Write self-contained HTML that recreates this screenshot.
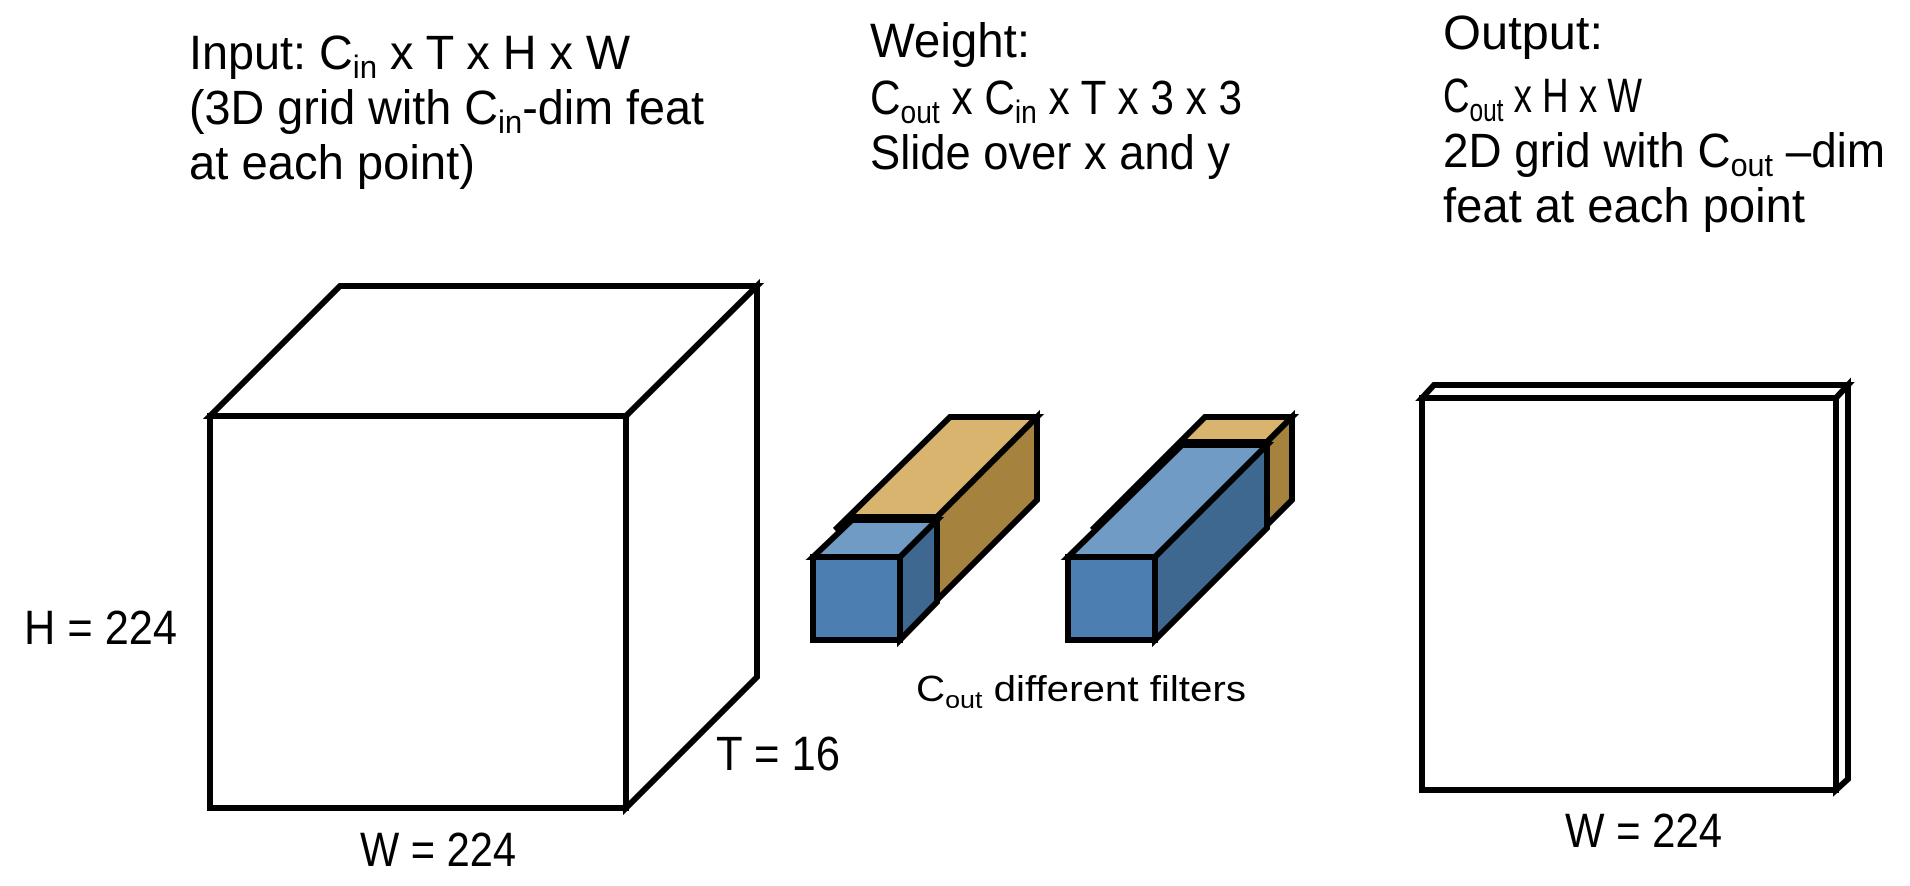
<!DOCTYPE html>
<html><head><meta charset="utf-8"><style>
html,body{margin:0;padding:0;background:#fff;}
svg{display:block;}
text{font-family:"Liberation Sans",sans-serif;fill:#000;}
</style></head><body>
<svg width="1910" height="886" viewBox="0 0 1910 886" xmlns="http://www.w3.org/2000/svg">
<g font-size="48">
<text x="189" y="69" textLength="441" lengthAdjust="spacingAndGlyphs">Input:  C<tspan font-size="32" dy="9">in</tspan><tspan dy="-9"> x T x H x W</tspan></text>
<text x="189" y="124" textLength="515" lengthAdjust="spacingAndGlyphs">(3D grid with C<tspan font-size="32" dy="9">in</tspan><tspan dy="-9">-dim feat</tspan></text>
<text x="189" y="179" textLength="286" lengthAdjust="spacingAndGlyphs">at each point)</text>
<text x="870" y="57" textLength="160" lengthAdjust="spacingAndGlyphs">Weight:</text>
<text x="870" y="114" textLength="372" lengthAdjust="spacingAndGlyphs">C<tspan font-size="32" dy="9">out</tspan><tspan dy="-9"> x C</tspan><tspan font-size="32" dy="9">in</tspan><tspan dy="-9"> x T x 3 x 3</tspan></text>
<text x="870" y="169" textLength="360" lengthAdjust="spacingAndGlyphs">Slide over x and y</text>
<text x="1443" y="49" textLength="160" lengthAdjust="spacingAndGlyphs">Output:</text>
<text x="1443" y="112" textLength="199" lengthAdjust="spacingAndGlyphs">C<tspan font-size="32" dy="9">out</tspan><tspan dy="-9"> x H x W</tspan></text>
<text x="1443" y="167" textLength="442" lengthAdjust="spacingAndGlyphs">2D grid with C<tspan font-size="32" dy="9">out</tspan><tspan dy="-9"> –dim</tspan></text>
<text x="1443" y="222" textLength="362" lengthAdjust="spacingAndGlyphs">feat at each point</text>
<text x="24" y="644" textLength="153" lengthAdjust="spacingAndGlyphs">H = 224</text>
<text x="716" y="770" textLength="124" lengthAdjust="spacingAndGlyphs">T = 16</text>
<text x="360" y="866" textLength="156" lengthAdjust="spacingAndGlyphs">W = 224</text>
<text x="1565" y="847" textLength="157" lengthAdjust="spacingAndGlyphs">W = 224</text>
</g>
<text x="916" y="701" font-size="36" textLength="330" lengthAdjust="spacingAndGlyphs">C<tspan font-size="24" dy="7">out</tspan><tspan dy="-7"> different filters</tspan></text>

<g stroke="#000" stroke-width="6" stroke-linejoin="miter" fill="#fff">
<polygon points="210,416 340,286 757,286 626,416"/>
<polygon points="626,416 757,286 757,677 626,808"/>
<rect x="210" y="416" width="416" height="392"/>
<polygon points="1422,398 1434,385 1848,385 1836,398"/>
<polygon points="1836,398 1848,385 1848,779 1836,790"/>
<rect x="1422" y="398" width="414" height="392"/>

<polygon fill="#d8b46e" points="835,530 950,417 1037,417 937,517 853,517"/>
<polygon fill="#a6823f" points="937,517 1037,417 1037,500 937,600"/>
<polygon fill="#6f9bc5" points="813,557 852,520 937,520 900,557"/>
<polygon fill="#3f6891" points="900,557 937,520 937,602 900,640"/>
<rect fill="#4c7eb2" x="813" y="557" width="87" height="83"/>

<polygon fill="#d8b46e" points="1092,530 1205,417 1292,417 1267,442 1185,442"/>
<polygon fill="#a6823f" points="1267,442 1292,417 1292,500 1267,525"/>
<polygon fill="#6f9bc5" points="1068,557 1182,445 1267,445 1155,557"/>
<polygon fill="#3f6891" points="1155,557 1267,445 1267,528 1155,640"/>
<rect fill="#4c7eb2" x="1068" y="557" width="87" height="83"/>
</g>
</svg>
</body></html>
